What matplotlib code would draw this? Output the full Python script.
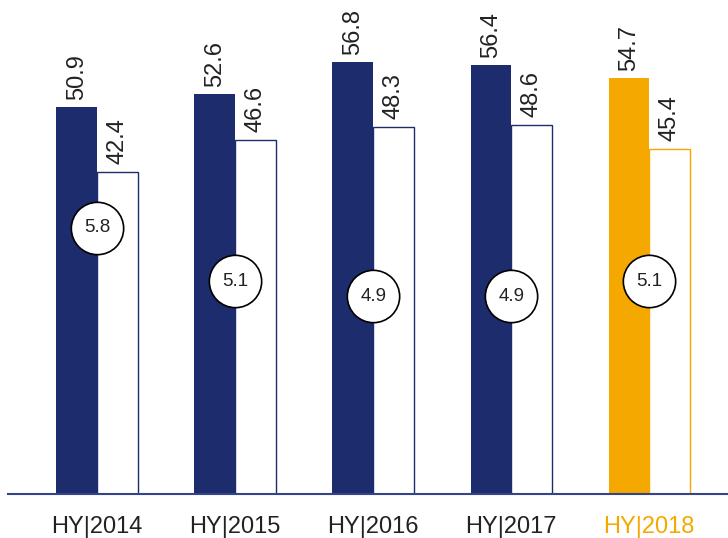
import numpy as np
import matplotlib.pyplot as plt

plt.rcParams['font.family'] = ['Liberation Sans', 'DejaVu Sans']

# daten
years = ['HY|2014', 'HY|2015', 'HY|2016', 'HY|2017', 'HY|2018']
first = [50.9, 52.6, 56.8, 56.4, 54.7]
second = [42.4, 46.6, 48.3, 48.6, 45.4]
diff = [5.8, 5.1, 4.9, 4.9, 5.1]

navy = '#1c2c6c'
orange = '#f5a800'
colors = [navy, navy, navy, navy, orange]

fig = plt.figure(figsize=(7.28, 5.38), dpi=100)
ax = fig.add_axes([8 / 728, 44 / 538, 720 / 728, 494 / 538])

x = np.arange(len(years))
w = 0.295

ax.bar(x - w / 2, first, w, color=colors, edgecolor='none')
ax.bar(x + w / 2, second, w, color='white', edgecolor=colors, linewidth=1.0)

for i in range(len(years)):
    ax.text(x[i] - w / 2, first[i] + 1.0, f'{first[i]:.1f}', rotation=90,
            ha='center', va='bottom', fontsize=17, color='#222222')
    ax.text(x[i] + w / 2, second[i] + 1.0, f'{second[i]:.1f}', rotation=90,
            ha='center', va='bottom', fontsize=17, color='#222222')

# kreise mit differenz
cy = [10 * d - 23 for d in diff]
ax.scatter(x, cy, s=1420, facecolor='white', edgecolor='black', linewidth=1.2, zorder=3)
for i in range(len(years)):
    ax.text(x[i], cy[i], f'{diff[i]:.1f}', ha='center', va='center',
            fontsize=13.5, color='#222222', zorder=4)

ax.set_xlim(-0.645, 4.57)
ax.set_ylim(0, 65)
for s in ['top', 'right', 'left']:
    ax.spines[s].set_visible(False)
ax.spines['bottom'].set_color('#34448a')
ax.spines['bottom'].set_linewidth(1.5)
ax.set_yticks([])
ax.set_xticks(x)
ax.set_xticklabels(years, fontsize=17, color='#222222')
ax.tick_params(axis='x', length=0, pad=16)
ax.get_xticklabels()[-1].set_color(orange)

fig.savefig('out.png', dpi=100)
